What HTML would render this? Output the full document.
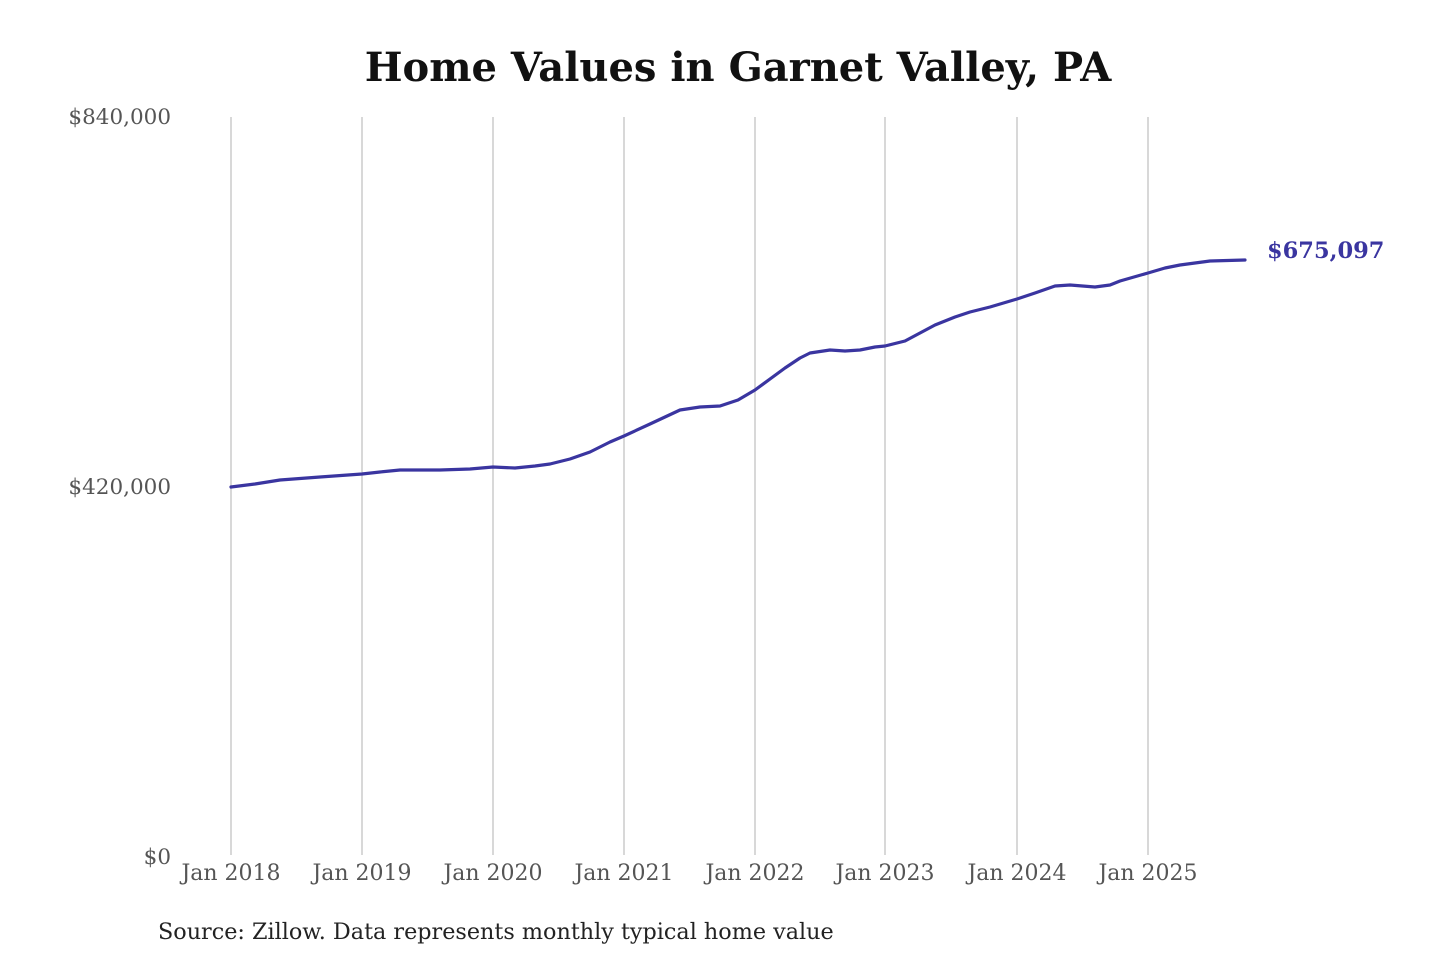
<!DOCTYPE html>
<html><head><meta charset="utf-8"><style>
html,body{margin:0;padding:0;background:#fff;}
svg{display:block}
</style></head><body>
<svg width="1440" height="960" xmlns="http://www.w3.org/2000/svg" font-family="'DejaVu Serif','Liberation Serif',serif">
<rect width="1440" height="960" fill="#fff"/>
<text x="738" y="81" text-anchor="middle" font-size="40" font-weight="bold" fill="#111">Home Values in Garnet Valley, PA</text>
<g stroke="#c4c4c4" stroke-width="1.3">
<line x1="231" y1="117" x2="231" y2="855"/>
<line x1="362" y1="117" x2="362" y2="855"/>
<line x1="493" y1="117" x2="493" y2="855"/>
<line x1="624" y1="117" x2="624" y2="855"/>
<line x1="755" y1="117" x2="755" y2="855"/>
<line x1="885" y1="117" x2="885" y2="855"/>
<line x1="1017" y1="117" x2="1017" y2="855"/>
<line x1="1148" y1="117" x2="1148" y2="855"/>
</g>
<g font-size="21.5" fill="#555" text-anchor="end">
<text x="171" y="124">$840,000</text>
<text x="171" y="494">$420,000</text>
<text x="171" y="864">$0</text>
</g>
<g font-size="22" fill="#555" text-anchor="middle">
<text x="231" y="880">Jan 2018</text>
<text x="362" y="880">Jan 2019</text>
<text x="493" y="880">Jan 2020</text>
<text x="624" y="880">Jan 2021</text>
<text x="755" y="880">Jan 2022</text>
<text x="885" y="880">Jan 2023</text>
<text x="1017" y="880">Jan 2024</text>
<text x="1148" y="880">Jan 2025</text>
</g>
<text x="158" y="939" font-size="22.3" fill="#222">Source: Zillow. Data represents monthly typical home value</text>
<polyline fill="none" stroke="#3a35a0" stroke-width="3.2" stroke-linejoin="round" stroke-linecap="round"
points="231,487 255,484 280,480 320,477 362,474 380,472 400,470 440,470 470,469 493,467 515,468 535,466 550,464 570,459 590,452 610,442 624,436 650,424 665,417 680,410 700,407 720,406 738,400 755,390 770,379 785,368 800,358 810,353 830,350 845,351 860,350 875,347 885,346 905,341 920,333 935,325 955,317 970,312 990,307 1017,299 1035,293 1055,286 1070,285 1095,287 1110,285 1120,281 1148,273 1165,268 1180,265 1210,261 1245,260"/>
<text x="1267" y="258" font-size="22.5" font-weight="bold" fill="#3a35a0">$675,097</text>
</svg>
</body></html>
